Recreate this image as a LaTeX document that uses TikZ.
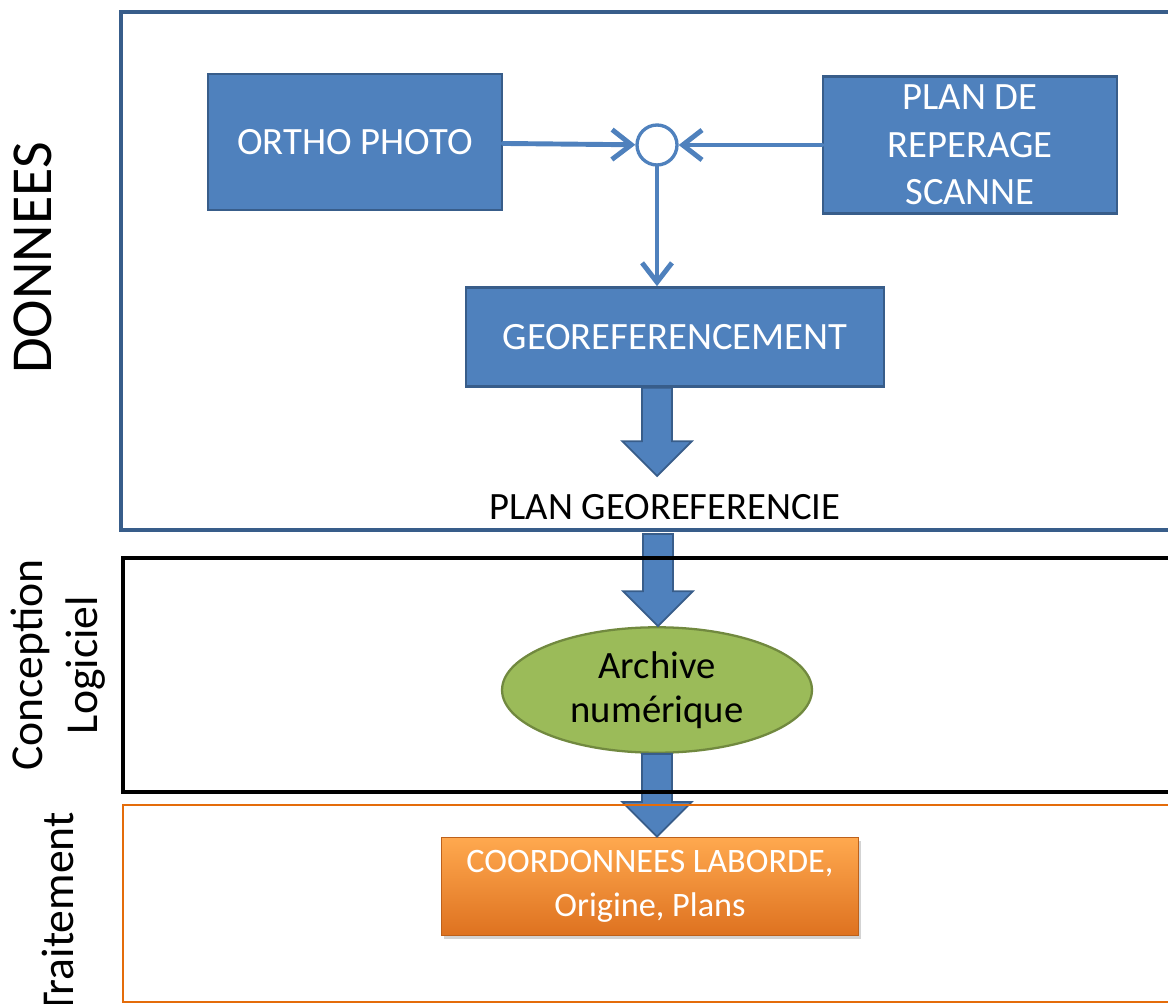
\documentclass[tikz,border=0pt]{standalone}
\usepackage{fontspec}
\setmainfont{Carlito}
\usetikzlibrary{arrows.meta,shapes.geometric,shadows,calc}

\definecolor{boxblue}{HTML}{4F81BD}
\definecolor{lineblue}{HTML}{385D8A}
\definecolor{archgreen}{HTML}{9BBB59}
\definecolor{archline}{HTML}{71893F}
\definecolor{laneorange}{HTML}{E46C0A}
\definecolor{coordtop}{HTML}{FFA94F}
\definecolor{coordbot}{HTML}{DE7220}

\tikzset{
  bluebox/.style={draw=lineblue,fill=boxblue,line width=1.5pt,text=white,align=center,font=\fontsize{22}{27}\selectfont},
  flow/.style={draw=boxblue,line width=2.8pt,-{Straight Barb[length=11pt,width=17pt]},line cap=round},
  bigarrow/.style={draw=lineblue,fill=boxblue,line width=1pt,line join=miter},
  lanelabel/.style={rotate=90,align=center},
}

\newcommand{\BlockArrow}[2]{%
  \draw[bigarrow] let \p1=(#1), \p2=(#2) in
    (\x1-8.5pt,\y1) -- (\x1+8.5pt,\y1) -- (\x1+8.5pt,\y2+19.8pt)
    -- (\x1+19.8pt,\y2+19.8pt) -- (\x1,\y2) -- (\x1-19.8pt,\y2+19.8pt)
    -- (\x1-8.5pt,\y2+19.8pt) -- cycle;}

\begin{document}
\begin{tikzpicture}[x=0.02cm,y=-0.02cm]
	\useasboundingbox (0,0) rectangle (1168,1003);

	\node[bluebox,minimum width=5.88cm,minimum height=2.72cm] (OrthoPhoto) at (355,142) {ORTHO PHOTO};
	\node[bluebox,minimum width=5.88cm,minimum height=2.74cm] (PlanReperage) at (970,145) {PLAN DE\\REPERAGE\\SCANNE};
	\node[circle,draw=boxblue,fill=white,line width=1.9pt,minimum size=0.8cm,inner sep=0] (Junction) at (657,145) {};

	\node[bluebox,minimum width=8.36cm,minimum height=1.98cm] (GeoRef) at (675,337) {GEOREFERENCEMENT};
	\node[font=\fontsize{22}{26}\selectfont] (PlanGeo) at (665,507) {PLAN GEOREFERENCIE};

	\node[ellipse,draw=archline,fill=archgreen,line width=1.3pt,minimum width=6.2cm,minimum height=2.08cm,align=center,font=\fontsize{22}{25}\selectfont] (Archive) at (657,690) {Archive\\numérique};

	\node[draw=coordbot!85!black,line width=0.4pt,top color=coordtop,bottom color=coordbot,drop shadow={shadow xshift=1.5pt,shadow yshift=-2.5pt,opacity=0.35},text=white,align=center,minimum width=8.34cm,minimum height=1.96cm,font=\fontsize{19.5}{25}\selectfont] (Coord) at (650,886) {COORDONNEES LABORDE,\\Origine, Plans};

	\coordinate (GeoTip) at (658,476);
	\coordinate (PlanGeoOut) at (658,534);

	\draw[flow] (OrthoPhoto) -- (Junction);
	\draw[flow] (PlanReperage) -- (Junction);
	\draw[flow] (Junction) -- (Junction |- GeoRef.north);

	\BlockArrow{Junction |- GeoRef.south}{GeoTip}
	\BlockArrow{PlanGeoOut}{Archive.north}
	\BlockArrow{Archive.south}{Coord.north}

	%%% lanes
	\draw[draw=lineblue,line width=1.8pt] (121,12) rectangle (1190,530);
	\draw[draw=black,line width=2pt] (123,558) rectangle (1190,792);
	\draw[draw=laneorange,line width=1.6pt] (123,805) rectangle (1190,1002);

	\node[lanelabel,font=\fontsize{33}{40}\selectfont] (Donnees) at (33,258) {DONNEES};
	\node[lanelabel,font=\fontsize{26}{31}\selectfont] (Conception) at (58,665) {Conception\\Logiciel};
	\node[lanelabel,font=\fontsize{26}{31}\selectfont,anchor=east] (Traitement) at (58,806) {Traitement};
\end{tikzpicture}
\end{document}
